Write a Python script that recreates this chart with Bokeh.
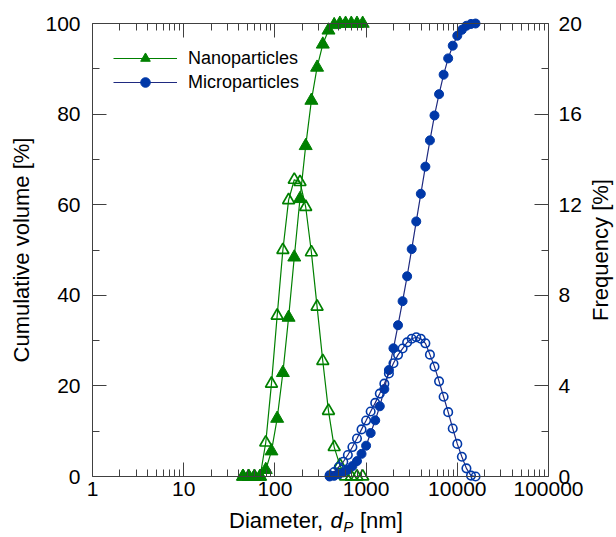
import math
from bokeh.plotting import figure
from bokeh.models import (Range1d, LinearAxis, LogAxis, FixedTicker, NumeralTickFormatter,
                          Legend, LegendItem)
from bokeh.core.properties import value
from bokeh.embed import file_html
from bokeh.resources import INLINE

# ---------------- data ----------------
nano_d = [44.7, 51.6, 59.6, 68.8, 79.4, 91.7, 105.9, 122.3, 141.3, 163.1, 188.4,
          217.6, 251.2, 290.1, 335.0, 386.8, 446.7, 515.8, 595.7, 687.9, 794.3, 917.3]
nano_cum = [0, 0, 0, 0, 1.5, 5.6, 12.8, 22.9, 35.1, 48.4, 61.3,
            73.0, 83.0, 90.3, 95.4, 98.5, 99.7, 100, 100, 100, 100, 100]
nano_freq = [0, 0, 0, 0, 1.5, 4.1, 7.1, 10.0, 12.2, 13.1, 13.0,
             11.9, 9.9, 7.5, 5.1, 2.9, 1.3, 0.5, 0, 0, 0, 0]

micro_d = [398.1, 446.7, 501.2, 562.3, 631.0, 707.9, 794.3, 891.3, 1000, 1122,
           1259, 1413, 1585, 1778, 1995, 2239, 2512, 2818, 3162, 3548,
           3981, 4467, 5012, 5623, 6310, 7079, 7943, 8913, 10000, 11220,
           12589, 14125, 15849]
micro_cum = [0, 0.15, 0.5, 0.9, 1.5, 2.3, 3.4, 5.0, 6.8, 9.6,
             12.4, 15.5, 19.3, 23.5, 28.3, 33.4, 38.7, 44.2, 50.2, 56.3,
             62.4, 68.4, 74.2, 79.7, 84.4, 88.7, 92.3, 95.1, 97.3, 98.6,
             99.5, 99.9, 100]
micro_freq = [0.05, 0.2, 0.42, 0.65, 0.95, 1.3, 1.68, 2.08, 2.47, 2.87,
              3.25, 3.66, 4.1, 4.55, 5.0, 5.37, 5.65, 5.92, 6.08, 6.15,
              6.08, 5.88, 5.38, 4.85, 4.2, 3.52, 2.84, 2.12, 1.44, 0.87,
              0.36, 0.04, 0.0]

x_ticks = [1, 10, 100, 1000, 10000, 100000]
x_tick_labels = ["1", "10", "100", "1000", "10000", "100000"]
cum_ticks = [0, 20, 40, 60, 80, 100]
cum_minor = [10, 30, 50, 70, 90]
freq_ticks = [0, 4, 8, 12, 16, 20]
freq_minor = [2, 6, 10, 14, 18]
series_labels = ["Nanoparticles", "Microparticles"]
x_title = ["Diameter,", "d", "P", "[nm]"]
y_title = "Cumulative volume [%]"
y2_title = "Frequency [%]"

X_MIN, X_MAX = 1, 100000
Y_MIN, Y_MAX = 0, 100
F_MIN, F_MAX = 0, 20

# ---------------- style / layout (pixels) ----------------
FONT = "Liberation Sans"
GREEN = "#008000"
BLUE = "#0038a8"
NAVY = "#1f2a80"
AX = "#404040"

W, H = 616, 537
FL, FR, FT, FB = 92, 548, 23, 476   # axis box in canvas pixels

px_per_dec = (FR - FL) / math.log10(X_MAX / X_MIN)
px_per_y = (FB - FT) / (Y_MAX - Y_MIN)
px_per_f = (FB - FT) / (F_MAX - F_MIN)


def xd(px):   # canvas x pixel -> data x
    return X_MIN * 10 ** ((px - FL) / px_per_dec)


def yd(py):   # canvas y pixel -> data y (left scale)
    return Y_MIN + (FB - py) / px_per_y


p = figure(width=W, height=H, x_axis_type="log",
           x_range=Range1d(xd(0), xd(W)), y_range=Range1d(yd(H), yd(0)),
           output_backend="svg", toolbar_location=None,
           min_border=0, min_border_left=0, min_border_right=0,
           min_border_top=0, min_border_bottom=0,
           background_fill_color="white", border_fill_color="white")
p.extra_y_ranges = {"freq": Range1d(F_MIN - (H - FB) / px_per_f,
                                    F_MAX + FT / px_per_f)}
p.grid.visible = False
p.outline_line_color = None


def style(ax, size="21px"):
    ax.axis_line_color = AX
    ax.axis_line_width = 1
    ax.major_tick_line_color = AX
    ax.minor_tick_line_color = AX
    ax.major_tick_in = 14
    ax.major_tick_out = 0
    ax.minor_tick_in = 7
    ax.minor_tick_out = 0
    ax.major_label_text_font = FONT
    ax.major_label_text_font_size = size
    ax.major_label_text_color = "black"


minor_x = [m * 10 ** e for e in range(0, 5) for m in range(2, 10)]
xt = FixedTicker(ticks=x_ticks, minor_ticks=minor_x)

bx = p.below[0]
bx.ticker = xt
bx.formatter = NumeralTickFormatter(format="0")
bx.major_label_overrides = {t: l for t, l in zip(x_ticks, x_tick_labels)}
style(bx)
bx.major_label_standoff = 5
bx.fixed_location = Y_MIN
bx.bounds = (X_MIN, X_MAX)

top = LogAxis(ticker=xt, major_label_standoff=0)
style(top, size="0px")
top.major_label_text_alpha = 0
top.fixed_location = Y_MAX
top.bounds = (X_MIN, X_MAX)
p.add_layout(top, "above")

ly = p.left[0]
ly.ticker = FixedTicker(ticks=cum_ticks, minor_ticks=cum_minor)
style(ly)
ly.major_label_standoff = 12
ly.fixed_location = X_MIN
ly.bounds = (Y_MIN, Y_MAX)

ry = LinearAxis(y_range_name="freq",
                ticker=FixedTicker(ticks=freq_ticks, minor_ticks=freq_minor))
style(ry)
ry.major_label_standoff = 10
ry.fixed_location = X_MAX
ry.bounds = (F_MIN, F_MAX)
p.add_layout(ry, "right")

# ---------------- glyphs ----------------
nl = p.line(nano_d, nano_cum, line_color=GREEN, line_width=1.2)
ns = p.scatter(nano_d, nano_cum, marker="triangle", size=13,
               fill_color=GREEN, line_color=GREEN)
p.line(nano_d, nano_freq, y_range_name="freq", line_color=GREEN, line_width=1.2)
p.scatter(nano_d, nano_freq, y_range_name="freq", marker="triangle", size=12,
          fill_color=None, line_color=GREEN, line_width=1.7)

ml = p.line(micro_d, micro_cum, line_color=NAVY, line_width=1.2)
ms = p.scatter(micro_d, micro_cum, marker="circle", size=9,
               fill_color=BLUE, line_color=BLUE)
p.line(micro_d, micro_freq, y_range_name="freq", line_color=NAVY, line_width=1.2)
p.scatter(micro_d, micro_freq, y_range_name="freq", marker="circle", size=8.5,
          fill_color=None, line_color=BLUE, line_width=1.6)

LEG_ROW = 24
leg_h = 2 * LEG_ROW
leg_top = 46
legend = Legend(items=[LegendItem(label=series_labels[0], renderers=[nl, ns]),
                       LegendItem(label=series_labels[1], renderers=[ml, ms])],
                location=(113, H - leg_top - leg_h), margin=0, padding=0, spacing=0,
                glyph_width=64, glyph_height=LEG_ROW, label_height=LEG_ROW,
                label_standoff=11, label_text_font=FONT,
                label_text_font_size="18px", label_text_color="black",
                border_line_color=None, background_fill_alpha=0)
p.add_layout(legend)

# ---------------- titles (real text) ----------------
TITLE_FS = "22px"
mid_y = yd((FT + FB) / 2.0)
p.text(x=[xd(21)], y=[mid_y], text=[y_title], text_font=value(FONT),
       text_font_size=TITLE_FS, text_color="black", angle=math.pi / 2,
       text_align="center", text_baseline="middle")
p.text(x=[xd(600)], y=[mid_y], text=[y2_title], text_font=value(FONT),
       text_font_size=TITLE_FS, text_color="black", angle=math.pi / 2,
       text_align="center", text_baseline="middle")

tx0 = 228.5
mid = 520
pieces = [(x_title[0], tx0, mid, TITLE_FS, "normal"),
          (x_title[1], tx0 + 101.5, mid, TITLE_FS, "italic"),
          (x_title[2], tx0 + 114.2, mid + 6, "15px", "italic"),
          (x_title[3], tx0 + 131.0, mid, TITLE_FS, "normal")]
for txt, px, py, fs, st in pieces:
    p.text(x=[xd(px)], y=[yd(py)], text=[txt], text_font=value(FONT),
           text_font_size=fs, text_font_style=st, text_color="black",
           text_align="left", text_baseline="middle")

open("out.html", "w").write(file_html(p, INLINE))
